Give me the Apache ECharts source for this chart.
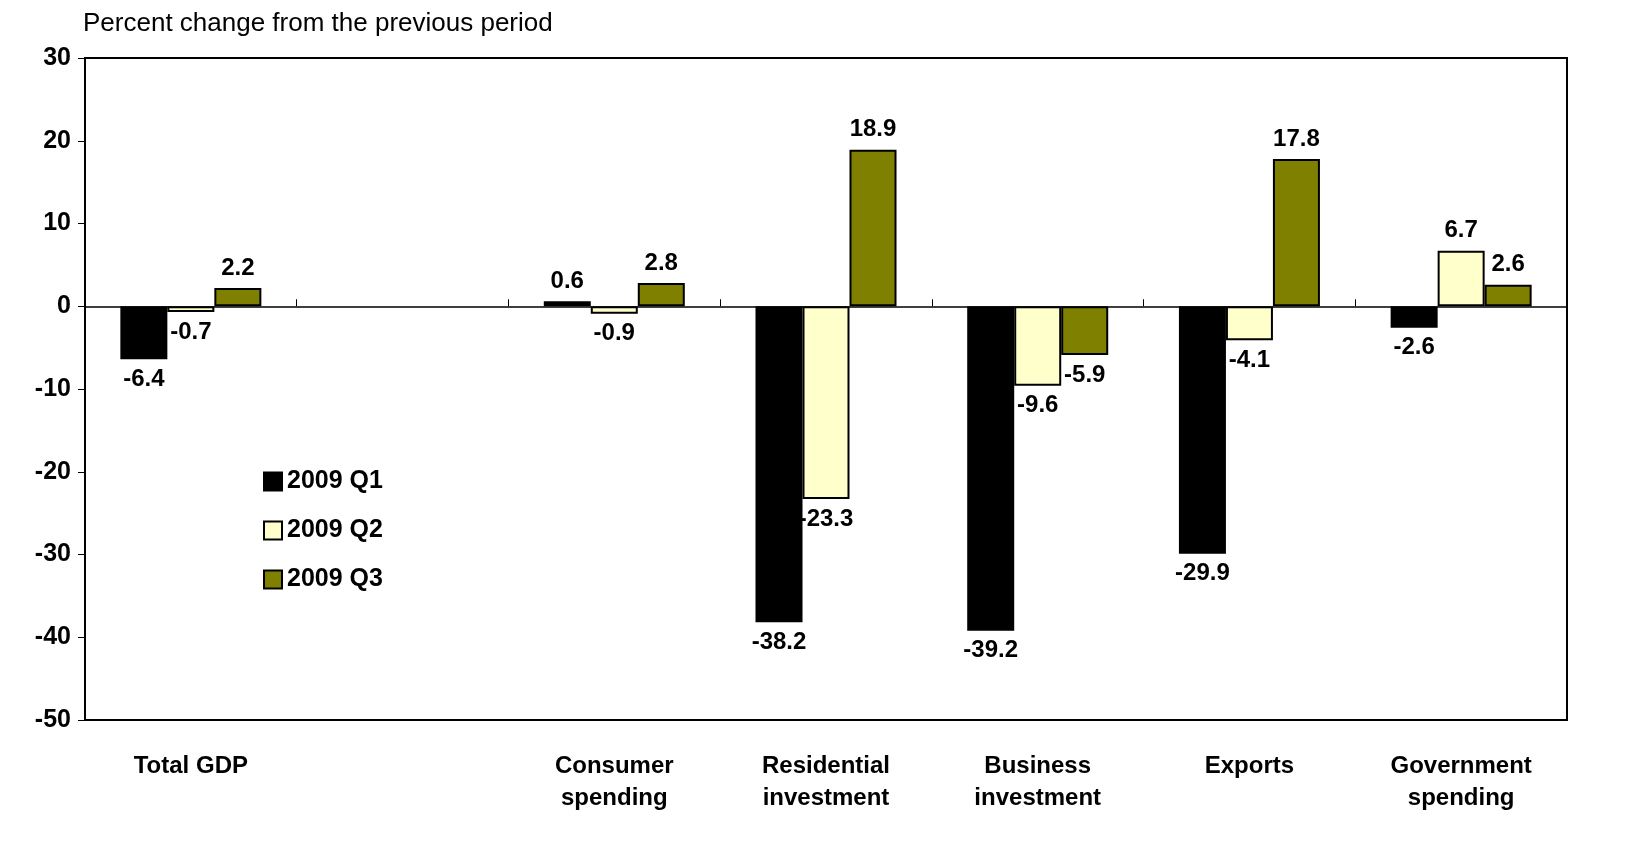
<!DOCTYPE html>
<html><head><meta charset="utf-8">
<script src="https://cdn.jsdelivr.net/npm/echarts@6/dist/echarts.min.js"></script>
<style>html,body{margin:0;padding:0;background:#fff}#c{width:1650px;height:850px}</style>
</head><body><div id="c"></div>
<script>
var categories = ['Total GDP', '', 'Consumer\nspending', 'Residential\ninvestment', 'Business\ninvestment', 'Exports', 'Government\nspending'];
var q1 = [-6.4, null, 0.6, -38.2, -39.2, -29.9, -2.6];
var q2 = [-0.7, null, -0.9, -23.3, -9.6, -4.1, 6.7];
var q3 = [2.2, null, 2.8, 18.9, -5.9, 17.8, 2.6];
var yTicks = [-50, -40, -30, -20, -10, 0, 10, 20, 30];

var chart = echarts.init(document.getElementById('c'));
var font = 'Liberation Sans, Arial, sans-serif';
function series(name, data, color) {
    return {
        name: name, type: 'bar', barWidth: 47, barGap: '0%',
        itemStyle: {color: color, borderColor: '#000', borderWidth: 2},
        label: {
            show: true, fontFamily: font, fontWeight: 'bold', fontSize: 24, color: '#000', distance: 8,
            formatter: function (p) { return p.value.toFixed(1); }
        },
        data: data.map(function (v) {
            if (v === null) return null;
            return {value: v, label: {position: v < 0 ? 'bottom' : 'top'}};
        })
    };
}
chart.setOption({
    animation: false,
    title: {text: 'Percent change from the previous period', left: 78, top: 6,
        textStyle: {fontFamily: font, fontWeight: 'normal', fontSize: 26, color: '#000'}},
    legend: {
        orient: 'vertical', left: 258, top: 464, itemGap: 24, itemWidth: 18, itemHeight: 18, icon: 'rect',
        textStyle: {fontFamily: font, fontWeight: 'bold', fontSize: 25, color: '#000'},
        data: ['2009 Q1', '2009 Q2', '2009 Q3']
    },
    grid: {left: 85, right: 83, top: 58, bottom: 130, show: true, borderColor: '#000', borderWidth: 2},
    xAxis: [{
        type: 'category', data: categories, position: 'bottom',
        axisLine: {show: false}, axisTick: {show: false},
        axisLabel: {fontFamily: font, fontWeight: 'bold', fontSize: 24, color: '#000', margin: 30, lineHeight: 32}
    }, {
        type: 'category', data: categories, axisLine: {onZero: true, onZeroAxisIndex: 0, lineStyle: {color: '#000', width: 1.5}},
        axisTick: {show: true, inside: false, length: 7, lineStyle: {color: '#000'}}, axisLabel: {show: false}
    }],
    yAxis: {
        type: 'value', min: -50, max: 30, interval: 10,
        splitLine: {show: false},
        axisLine: {show: true, lineStyle: {color: '#000', width: 2}},
        axisTick: {show: true, length: 7, lineStyle: {color: '#000'}},
        axisLabel: {fontFamily: font, fontWeight: 'bold', fontSize: 25, color: '#000', margin: 14,
            formatter: function (v) { return yTicks.indexOf(v) >= 0 ? String(v) : ''; }}
    },
    series: [series('2009 Q1', q1, '#000000'), series('2009 Q2', q2, '#FFFFCC'), series('2009 Q3', q3, '#808000')]
});
</script></body></html>
